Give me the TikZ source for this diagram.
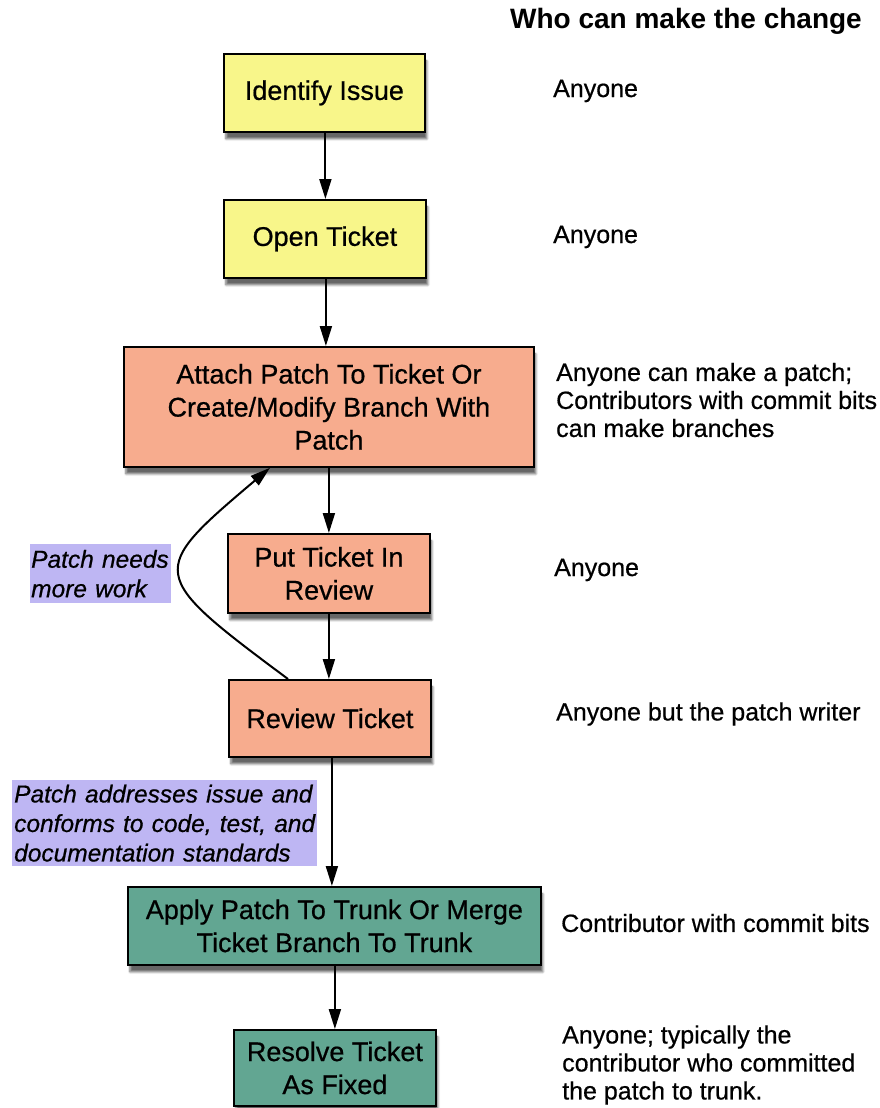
\documentclass[tikz,border=0pt]{standalone}
\usepackage{fontspec}
\setmainfont{Liberation Sans}
\newfontfamily\heavy{Liberation Sans}[FakeBold=0.6]
\usetikzlibrary{arrows.meta,shadows.blur}
\definecolor{yelbox}{RGB}{248,246,138}
\definecolor{salbox}{RGB}{247,172,142}
\definecolor{tealbox}{RGB}{98,166,146}
\definecolor{lblbox}{RGB}{190,182,243}
\begin{document}
\begin{tikzpicture}[x=1pt,y=-1pt,
  flowbox/.style={draw=black, line width=1.8pt, rectangle, inner sep=0pt, align=center,
    anchor=north west, font=\heavy\fontsize{27}{33}\selectfont,
    blur shadow={shadow xshift=2pt, shadow yshift=-7pt, shadow blur steps=6, shadow opacity=60}},
  whobox/.style={anchor=west, align=left, inner sep=0pt, font=\heavy\fontsize{25}{28}\selectfont},
  lblbox/.style={fill=lblbox, anchor=north west, align=left, inner sep=0pt, text width=#1,
    font=\heavy\fontsize{24.5}{29.5}\selectfont\itshape},
  flow/.style={line width=2pt, -{Triangle[length=20pt,width=12pt]}}
]
\useasboundingbox (0,0) rectangle (880,1108);

% title
\node[anchor=east, inner sep=0pt, font=\fontsize{28}{32}\selectfont\bfseries] (title) at (862,21) {Who can make the change};

% flow boxes
\node[flowbox, fill=yelbox, minimum width=201pt, minimum height=78pt] (idf) at (223,53) {Identify Issue};
\node[flowbox, fill=yelbox, minimum width=202pt, minimum height=78pt] (open) at (223,199) {Open Ticket};
\node[flowbox, fill=salbox, minimum width=410pt, minimum height=120pt] (attach) at (123,346) {Attach Patch To Ticket Or\\Create/Modify Branch With\\Patch};
\node[flowbox, fill=salbox, minimum width=202pt, minimum height=79pt] (put) at (227,533) {Put Ticket In\\Review};
\node[flowbox, fill=salbox, minimum width=202pt, minimum height=77pt] (review) at (228,679) {Review Ticket};
\node[flowbox, fill=tealbox, minimum width=413pt, minimum height=78pt] (apply) at (127,886) {Apply Patch To Trunk Or Merge\\Ticket Branch To Trunk};
\node[flowbox, fill=tealbox, minimum width=202pt, minimum height=76pt] (resolve) at (233,1029) {Resolve Ticket\\As Fixed};

% condition labels
\node[lblbox=141pt, minimum height=59pt] (lneeds) at (30,544) {\hspace*{1pt}Patch needs\\\hspace*{1pt}more work};
\node[lblbox=305pt, minimum height=86pt] (lok) at (12,780) {\hspace*{2pt}Patch addresses issue and\\\hspace*{2pt}conforms to code, test, and\\\hspace*{2pt}documentation standards};

% who column
\node[whobox] (w1) at (553,91) {Anyone};
\node[whobox] (w2) at (553,237) {Anyone};
\node[whobox] (w3) at (556,400) {Anyone can make a patch;\\Contributors with commit bits\\can make branches};
\node[whobox] (w4) at (554,570) {Anyone};
\node[whobox] (w5) at (556,714) {Anyone but the patch writer};
\node[whobox] (w6) at (561,923) {Contributor with commit bits};
\node[whobox] (w7) at (562,1065) {Anyone; typically the\\contributor who committed\\the patch to trunk.};

% connectors
\draw[flow] ([xshift=1pt]idf.south) -- ([xshift=1pt]idf.south |- open.north);
\draw[flow] ([xshift=1pt]open.south) -- ([xshift=1pt]open.south |- attach.north);
\draw[flow] ([xshift=0pt]put.north |- attach.south) -- (put.north);
\draw[flow] (put.south) -- (put.south |- review.north);
\draw[flow] ([xshift=2pt]review.south) -- ([xshift=2pt]review.south |- apply.north);
\draw[flow] ([xshift=0pt]resolve.north |- apply.south) -- (resolve.north);
\draw[flow] ([xshift=60pt]review.north west) .. controls +(-141,-105) and +(-123,104) .. ([xshift=147pt]attach.south west);
\end{tikzpicture}
\end{document}
